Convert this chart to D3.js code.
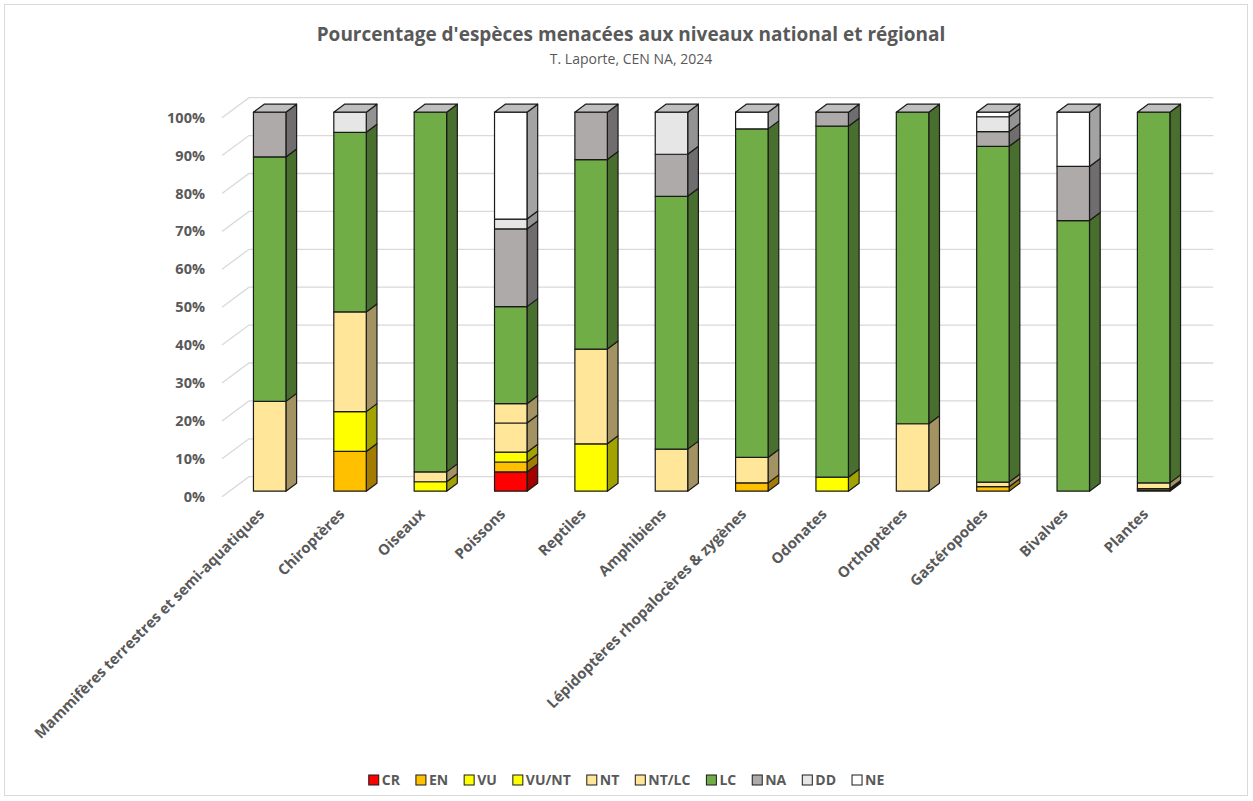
<!DOCTYPE html>
<html>
<head>
<meta charset="utf-8">
<style>
  body { margin: 0; background: #fff; }
  text { font-family: "Open Sans", sans-serif; }
</style>
</head>
<body>
<svg width="1253" height="801"></svg>
<script src="https://d3js.org/d3.v7.min.js"></script>
<script>

var categories = ["Mammifères terrestres et semi-aquatiques", "Chiroptères", "Oiseaux", "Poissons",
  "Reptiles", "Amphibiens", "Lépidoptères rhopalocères & zygènes", "Odonates", "Orthoptères",
  "Gastéropodes", "Bivalves", "Plantes"];

var statuses = ["CR", "EN", "VU", "VU/NT", "NT", "NT/LC", "LC", "NA", "DD", "NE"];
var colors = ["#FF0000", "#FFC000", "#FFFF00", "#FFFF00", "#FFE699", "#FFE699", "#70AD47", "#AEAAAA", "#E7E6E6", "#FFFFFF"];

// pourcentages par statut, un chiffre par groupe
var CR   = [0, 0, 0, 5.1, 0, 0, 0, 0, 0, 0, 0, 0];
var EN   = [0, 10.5, 0, 2.6, 0, 0, 2.2, 0, 0, 1.2, 0, 0.3];
var VU   = [0, 10.5, 2.5, 2.6, 12.5, 0, 0, 3.7, 0, 0, 0, 0.4];
var VUNT = [0, 0, 0, 0, 0, 0, 0, 0, 0, 0, 0, 0];
var NT   = [23.7, 26.3, 2.6, 7.7, 25, 11.1, 6.7, 0, 17.8, 1.2, 0, 1.5];
var NTLC = [0, 0, 0, 5.1, 0, 0, 0, 0, 0, 0, 0, 0];
var LC   = [64.5, 47.4, 94.9, 25.6, 50, 66.7, 86.7, 92.6, 82.2, 88.6, 71.4, 97.8];
var NA   = [11.8, 0, 0, 20.5, 12.5, 11.1, 0, 3.7, 0, 3.9, 14.3, 0];
var DD   = [0, 5.3, 0, 2.6, 0, 11.1, 0, 0, 0, 3.9, 0, 0];
var NE   = [0, 0, 0, 28.2, 0, 0, 4.4, 0, 0, 1.2, 14.3, 0];

var yTicks = [0, 10, 20, 30, 40, 50, 60, 70, 80, 90, 100];

var series = [CR, EN, VU, VUNT, NT, NTLC, LC, NA, DD, NE];

var table = categories.map(function(c, i) {
  var row = { cat: c };
  statuses.forEach(function(s, k) { row[s] = series[k][i]; });
  return row;
});

var stacked = d3.stack().keys(statuses)(table);

var svg = d3.select("svg");

svg.append("rect")
    .attr("x", 4.5).attr("y", 4.5)
    .attr("width", 1243).attr("height", 791)
    .attr("fill", "none")
    .attr("stroke", "#D9D9D9");

// 3d offsets
var depthX = 27, depthY = -20;   // front plane -> back wall
var barOffX = 7.5, barOffY = -5.5; // front plane -> bar front
var barDX = 10.7, barDY = -8;     // bar depth

var x = d3.scaleBand()
    .domain(categories)
    .range([222, 1186.3])
    .paddingInner(0.596)
    .paddingOuter(0.298);

var y = d3.scaleLinear()
    .domain([0, 100])
    .range([496.7, 117.7]);

// gridlines
svg.append("g")
  .selectAll("polyline")
  .data(yTicks)
  .enter().append("polyline")
    .attr("fill", "none")
    .attr("stroke", "#D9D9D9")
    .attr("stroke-width", 1.3)
    .attr("points", function(d) {
      var y0 = y(d);
      return [[222, y0], [222 + depthX, y0 + depthY], [1186.3 + depthX, y0 + depthY]].join(" ");
    });

svg.append("g")
  .selectAll("text")
  .data(yTicks)
  .enter().append("text")
    .attr("x", 205)
    .attr("y", function(d) { return y(d); })
    .attr("dy", "0.35em")
    .attr("text-anchor", "end")
    .attr("fill", "#595959")
    .attr("font-size", 14.5)
    .attr("font-weight", 700)
    .text(function(d) { return d + "%"; });

// bars
var bars = svg.append("g")
    .attr("stroke", "#1a1a1a")
    .attr("stroke-width", 1.2)
    .attr("stroke-linejoin", "round");

stacked.forEach(function(layer, k) {
  var col = colors[k];
  var side = d3.rgb(col).darker(1.25).formatHex();
  layer.forEach(function(d) {
    if (d[1] - d[0] <= 0) return;
    var x0 = x(d.data.cat) + barOffX;
    var x1 = x0 + x.bandwidth();
    var yTop = y(d[1]) + barOffY;
    var yBot = y(d[0]) + barOffY;
    bars.append("path")
        .attr("fill", side)
        .attr("d", "M" + x1 + "," + yBot + "L" + (x1 + barDX) + "," + (yBot + barDY) +
          "L" + (x1 + barDX) + "," + (yTop + barDY) + "L" + x1 + "," + yTop + "Z");
    bars.append("rect")
        .attr("x", x0).attr("y", yTop)
        .attr("width", x1 - x0).attr("height", yBot - yTop)
        .attr("fill", col);
  });
});

// bar tops
categories.forEach(function(c) {
  var x0 = x(c) + barOffX;
  var x1 = x0 + x.bandwidth();
  var yt = y(100) + barOffY;
  bars.append("path")
      .attr("fill", "#BFBFBF")
      .attr("d", "M" + x0 + "," + yt + "L" + (x0 + barDX) + "," + (yt + barDY) +
        "L" + (x1 + barDX) + "," + (yt + barDY) + "L" + x1 + "," + yt + "Z");
});

// category labels
svg.append("g")
  .selectAll("text")
  .data(categories)
  .enter().append("text")
    .attr("transform", function(d) {
      return "translate(" + (x(d) + x.bandwidth() / 2 + 3) + ",515) rotate(-45)";
    })
    .attr("text-anchor", "end")
    .attr("fill", "#595959")
    .attr("font-size", 14.8)
    .attr("font-weight", 700)
    .text(function(d) { return d; });

// title
svg.append("text")
    .attr("x", 631).attr("y", 41)
    .attr("text-anchor", "middle")
    .attr("fill", "#595959")
    .attr("font-size", 19)
    .attr("font-weight", 700)
    .text("Pourcentage d'espèces menacées aux niveaux national et régional");

svg.append("text")
    .attr("x", 631).attr("y", 64)
    .attr("text-anchor", "middle")
    .attr("fill", "#595959")
    .attr("font-size", 14)
    .text("T. Laporte, CEN NA, 2024");

// legend
var legend = svg.append("g");
var lx = 0;
statuses.forEach(function(s, k) {
  legend.append("rect")
      .attr("x", lx).attr("y", 775)
      .attr("width", 10).attr("height", 10)
      .attr("fill", colors[k])
      .attr("stroke", "#1a1a1a")
      .attr("stroke-width", 1);
  var t = legend.append("text")
      .attr("x", lx + 13).attr("y", 780)
      .attr("dy", "0.35em")
      .attr("fill", "#595959")
      .attr("font-size", 14)
      .attr("font-weight", 700)
      .text(s);
  lx += 13 + t.node().getComputedTextLength() + 16;
});
legend.attr("transform", "translate(" + (368 + (885 - 368 - (lx - 16)) / 2) + ",0)");

</script>
</body>
</html>
